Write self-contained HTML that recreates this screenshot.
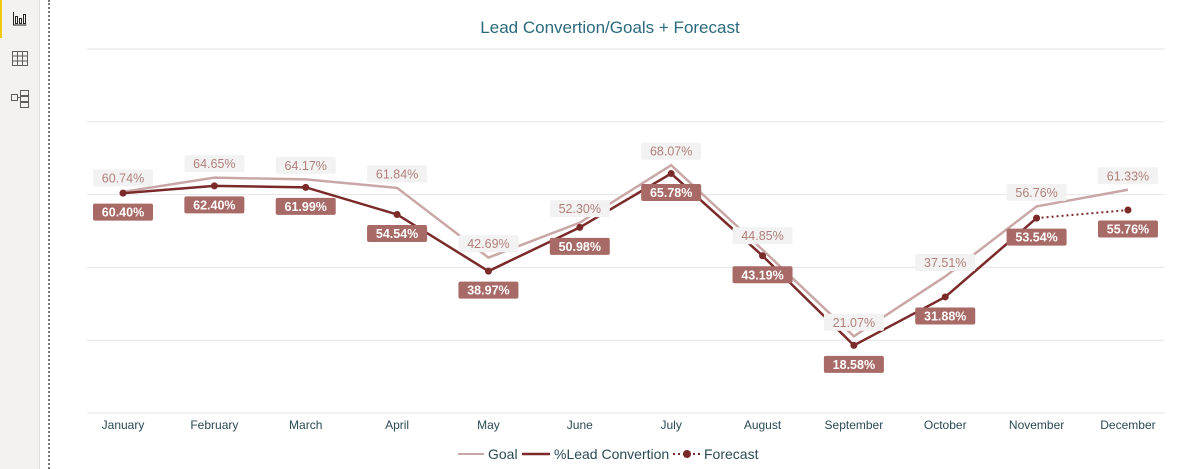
<!DOCTYPE html>
<html><head><meta charset="utf-8"><style>
body{margin:0;width:1177px;height:469px;background:#fff;overflow:hidden;font-family:"Liberation Sans",sans-serif;position:relative}
#side{position:absolute;left:0;top:0;width:39px;height:469px;background:#f3f2f1;border-right:1px solid #e1dfdd}
#dots{position:absolute;left:48px;top:0;height:469px;border-left:2px dotted #777}
</style></head><body>
<div id="side">
<div style="position:absolute;left:0;top:0;width:2px;height:38px;background:#f2c811"></div>
<svg width="39" height="120" style="position:absolute;left:0;top:0">
<g fill="none" stroke="#252423" stroke-width="1"><path d="M13.5 12v13h13"/><rect x="15.5" y="16.5" width="2" height="7"/><rect x="19.5" y="18.5" width="2" height="5"/><rect x="23.5" y="14.5" width="2" height="9"/></g>
<g fill="none" stroke="#605e5c"><rect x="12.5" y="51.5" width="15" height="14"/><path d="M12.5 56h15M12.5 61h15M17.5 51.5v14M22.5 51.5v14"/></g>
<g fill="none" stroke="#605e5c"><rect x="11.5" y="94.5" width="6" height="6"/><rect x="20.5" y="90.5" width="8" height="5"/><rect x="20.5" y="96.5" width="8" height="5"/><rect x="20.5" y="102.5" width="8" height="5"/><path d="M17.5 97.5h3"/></g>
</svg></div>
<div id="dots"></div>
<svg id="chart" width="1177" height="469" style="position:absolute;left:0;top:0">
<text x="610" y="33" text-anchor="middle" font-size="17" fill="#2b6a7c">Lead Convertion/Goals + Forecast</text>
<g id="grid"></g><g id="lines"></g><g id="labels"></g><g id="xaxis"></g>
<g font-size="14" fill="#2b4a55">
<line x1="458" y1="454" x2="484" y2="454" stroke="#c9a7a7" stroke-width="2"/>
<text x="488" y="459">Goal</text>
<line x1="522" y1="454" x2="550" y2="454" stroke="#7b2a2a" stroke-width="2.5"/>
<text x="554" y="459">%Lead Convertion</text>
<line x1="673" y1="454" x2="700" y2="454" stroke="#7b2a2a" stroke-width="2" stroke-dasharray="2,3"/>
<circle cx="687" cy="454" r="4" fill="#7b2a2a"/>
<text x="704" y="459">Forecast</text>
</g>
</svg>
<script>
const months=["January","February","March","April","May","June","July","August","September","October","November","December"];
const goal=[60.74,64.65,64.17,61.84,42.69,52.30,68.07,44.85,21.07,37.51,56.76,61.33];
const lead=[60.40,62.40,61.99,54.54,38.97,50.98,65.78,43.19,18.58,31.88,53.54,null];
const forecast=[null,null,null,null,null,null,null,null,null,null,53.54,55.76];
const yTicks=[0,20,40,60,80,100];
const NS="http://www.w3.org/2000/svg";
const x0=123,dx=91.36,yBase=413,yTop=49;
const X=i=>x0+i*dx;
const Y=v=>yBase-(v/100)*(yBase-yTop);
function mk(tag,attrs,parent){const e=document.createElementNS(NS,tag);for(const k in attrs)e.setAttribute(k,attrs[k]);parent.appendChild(e);return e;}
const grid=document.getElementById('grid'),lines=document.getElementById('lines'),labels=document.getElementById('labels'),xaxis=document.getElementById('xaxis');
yTicks.forEach(t=>{const l=mk('line',{x1:87,x2:1165,y1:Y(t),y2:Y(t),stroke:'#e6e6e6','stroke-width':1},grid);

});
months.forEach((m,i)=>{const t=mk('text',{x:X(i),y:429,'text-anchor':'middle','font-size':12,fill:'#2b4a55'},xaxis);t.textContent=m;

});
function path(arr){let d='';arr.forEach((v,i)=>{if(v==null)return;d+=(d?'L':'M')+X(i)+' '+Y(v);});return d;}
const g=mk('path',{d:path(goal),fill:'none',stroke:'#c9a7a7','stroke-width':2.5},lines);


const l=mk('path',{d:path(lead),fill:'none',stroke:'#7b2a2a','stroke-width':2.5},lines);


const f=mk('path',{d:path(forecast),fill:'none',stroke:'#7b2a2a','stroke-width':2,'stroke-dasharray':'2,3'},lines);


lead.forEach((v,i)=>{if(v==null)return;const c=mk('circle',{cx:X(i),cy:Y(v),r:3.5,fill:'#7b2a2a'},lines);

});
forecast.forEach((v,i)=>{if(v==null||lead[i]!=null)return;const c=mk('circle',{cx:X(i),cy:Y(v),r:3.5,fill:'#7b2a2a'},lines);

});
function lab(x,y,txt,bg,fg,name){const w=60,h=17;
const r=mk('rect',{x:x-w/2,y:y-h/2,width:w,height:h,rx:2,fill:bg},labels);


const t=mk('text',{x:x,y:y+4.5,'text-anchor':'middle','font-size':12.5,'font-weight':bg=='#f3f2f2'?'normal':'bold',fill:fg},labels);t.textContent=txt;

}
goal.forEach((v,i)=>lab(X(i),Y(v)-14,v.toFixed(2)+'%','#f3f2f2','#b07f7a','goal-label-'+i));
lead.forEach((v,i)=>{const vv=v!=null?v:forecast[i];lab(X(i),Y(vv)+19,vv.toFixed(2)+'%','#a86a66','#fff','lead-label-'+i);});
</script>
</body></html>
